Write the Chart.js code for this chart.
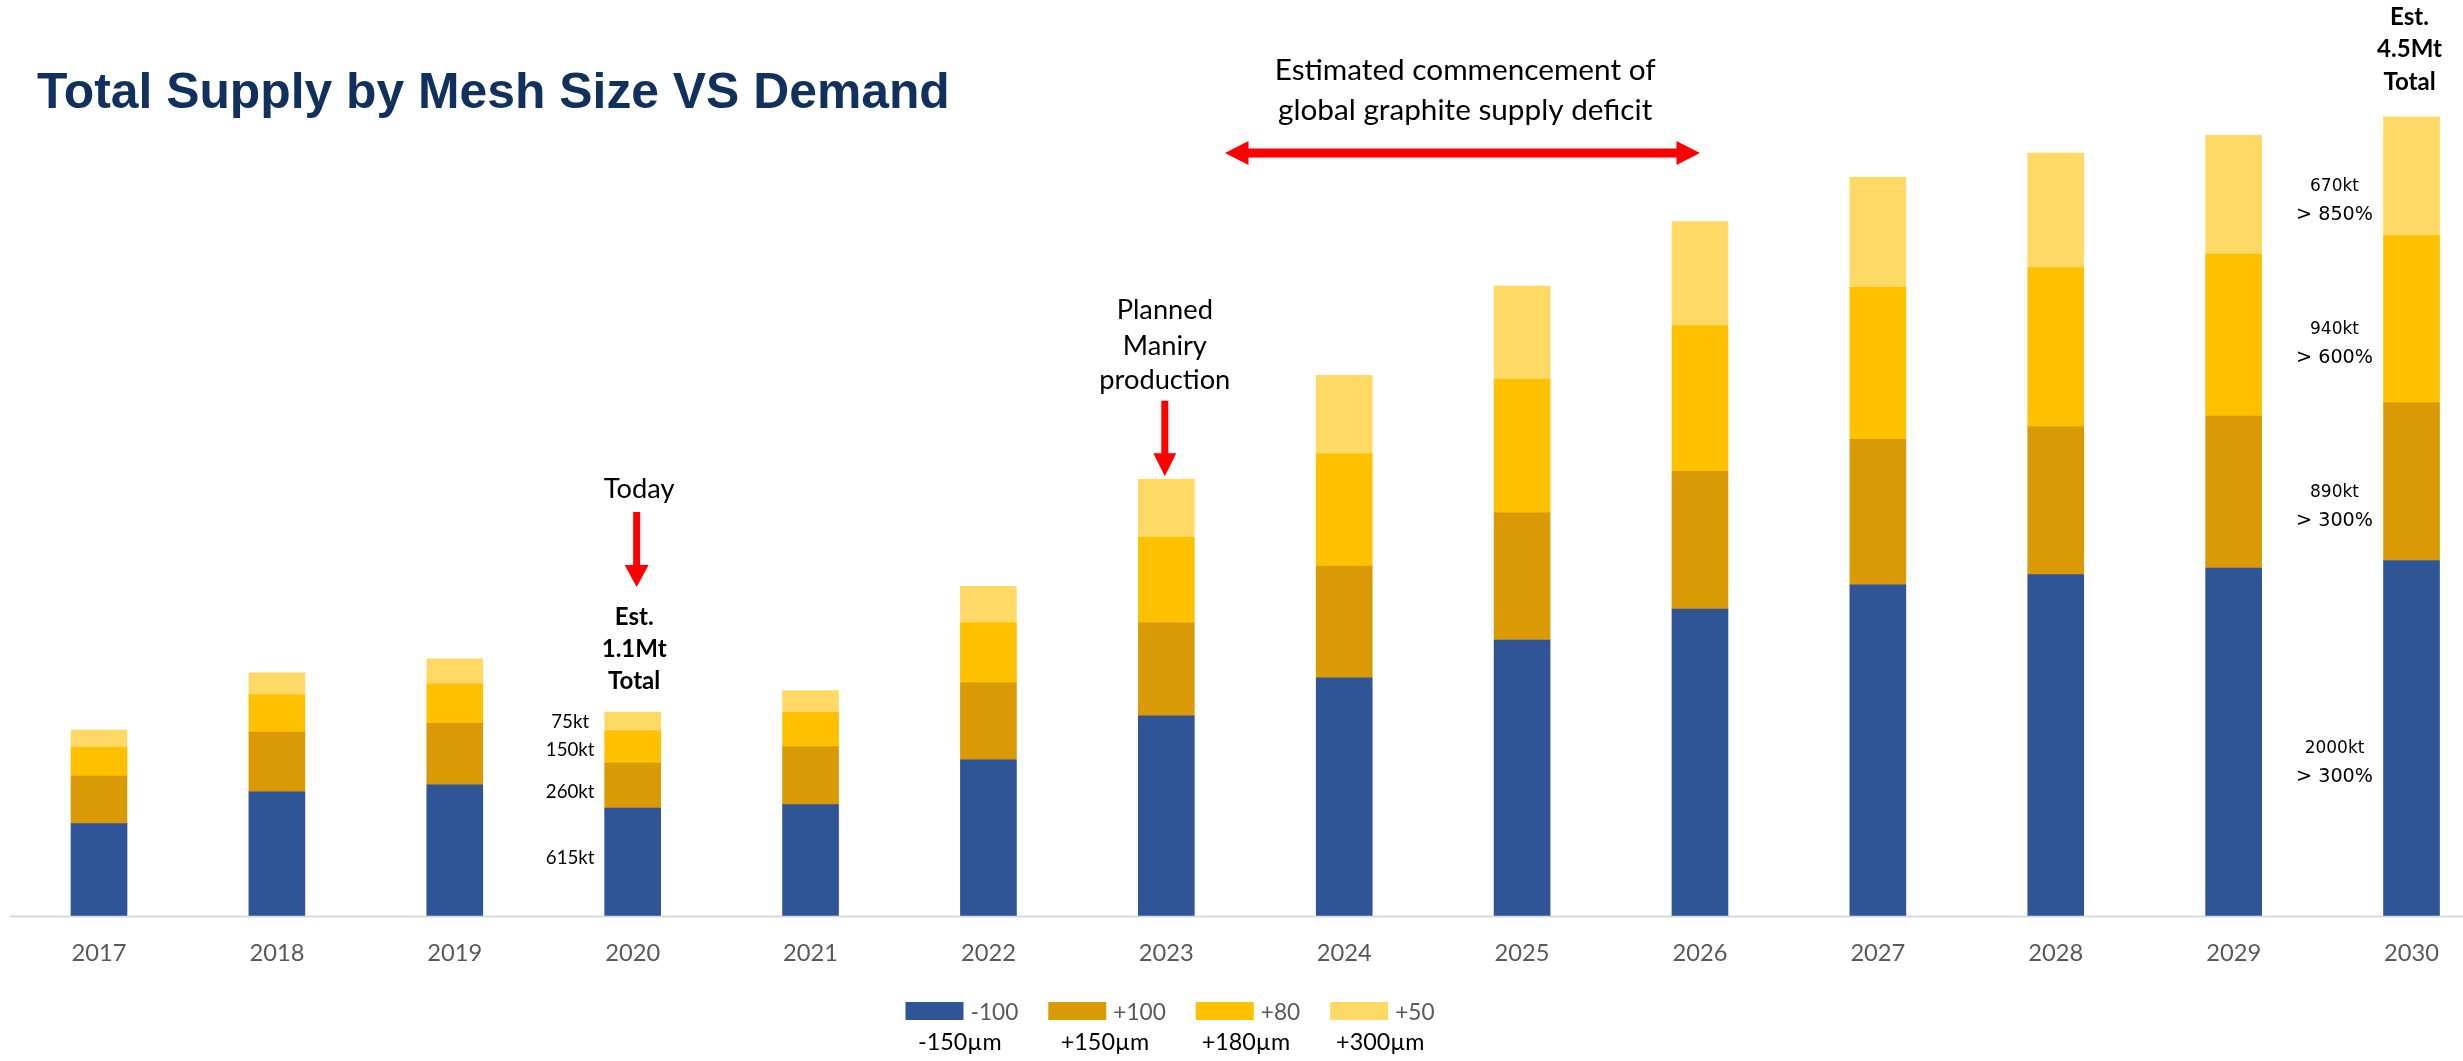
<!DOCTYPE html>
<html>
<head>
<meta charset="utf-8">
<script src="https://cdn.jsdelivr.net/npm/chart.js@4.4.1/dist/chart.umd.min.js"></script>
<style>
html,body{margin:0;padding:0;background:#ffffff;}
#wrap{position:relative;width:2463px;height:1061px;}
</style>
</head>
<body>
<div id="wrap"><canvas id="c" width="2463" height="1061"></canvas></div>
<script>
// ---------------- DATA ----------------
const years = ['2017','2018','2019','2020','2021','2022','2023','2024','2025','2026','2027','2028','2029','2030'];
const seriesLabels = ['-100','+100','+80','+50'];
const sizeLabels = ['-150µm','+150µm','+180µm','+300µm'];
// supply in kt
const minus100 = [518, 697, 736, 605, 625, 877, 1125, 1339, 1551, 1726, 1863, 1920, 1958, 2000];
const plus100  = [267, 336, 347, 254, 327, 434,  524,  629,  717,  776,  820,  835,  856,  890];
const plus80   = [163, 212, 222, 182, 193, 338,  482,  633,  752,  822,  856,  895,  913,  940];
const plus50   = [ 96, 122, 141, 105, 122, 205,  327,  442,  526,  585,  620,  645,  668,  670];
const yMax = 5000;

const chartTitle = 'Total Supply by Mesh Size VS Demand';
const todayYear = '2020';
const todayLabel = 'Today';
const todayTotalLines = ['Est.','1.1Mt','Total'];
const todaySegmentLabels = ['615kt','260kt','150kt','75kt'];
const maniryYear = '2023';
const maniryLines = ['Planned','Maniry','production'];
const finalYear = '2030';
const finalTotalLines = ['Est.','4.5Mt','Total'];
const finalSegmentLabels = ['2000kt','890kt','940kt','670kt'];
const finalGrowthLabels = ['> 300%','> 300%','> 600%','> 850%'];
const deficitLines = ['Estimated commencement of','global graphite supply deficit'];
const deficitFrom = 6.33, deficitTo = 9.0, deficitTextAt = 7.68; // category positions

// ---------------- STYLE ----------------
const colors = ['#2F5597','#DA9A06','#FFC000','#FFD966'];
const CAL = 'Lato';
const VER = "'DejaVu Sans'";
const ARI = "'Liberation Sans'";

const measureCtx = document.createElement('canvas').getContext('2d');
function fitSize(text, weight, family, width){
  measureCtx.font = weight + ' 100px ' + family;
  return 100 * width / measureCtx.measureText(text).width;
}
const tickSize = fitSize('2017', '400', CAL, 55);

function txt(ctx, s, x, y, size, weight, family, color, align){
  ctx.font = weight + ' ' + size + 'px ' + family;
  ctx.fillStyle = color;
  ctx.textAlign = align || 'center';
  ctx.textBaseline = 'alphabetic';
  ctx.fillText(s, x, y);
}
function downArrow(ctx, x, yTop, yHead, yTip, shaftW, headW){
  ctx.fillStyle = '#FF0000';
  ctx.beginPath();
  ctx.moveTo(x - shaftW/2, yTop);
  ctx.lineTo(x + shaftW/2, yTop);
  ctx.lineTo(x + shaftW/2, yHead);
  ctx.lineTo(x + headW/2, yHead);
  ctx.lineTo(x, yTip);
  ctx.lineTo(x - headW/2, yHead);
  ctx.lineTo(x - shaftW/2, yHead);
  ctx.closePath();
  ctx.fill();
}
function doubleArrow(ctx, x1, x2, y, shaftH, headL, headH){
  ctx.fillStyle = '#FF0000';
  ctx.beginPath();
  ctx.moveTo(x1, y);
  ctx.lineTo(x1 + headL, y - headH/2);
  ctx.lineTo(x1 + headL, y - shaftH/2);
  ctx.lineTo(x2 - headL, y - shaftH/2);
  ctx.lineTo(x2 - headL, y - headH/2);
  ctx.lineTo(x2, y);
  ctx.lineTo(x2 - headL, y + headH/2);
  ctx.lineTo(x2 - headL, y + shaftH/2);
  ctx.lineTo(x1 + headL, y + shaftH/2);
  ctx.lineTo(x1 + headL, y + headH/2);
  ctx.closePath();
  ctx.fill();
}

const annotations = {
  id: 'annotations',
  beforeDatasetsDraw(chart){
    const ctx = chart.ctx;
    const y0 = chart.scales.y.getPixelForValue(0);
    ctx.save();
    ctx.strokeStyle = '#D9D9D9';
    ctx.lineWidth = 2;
    ctx.beginPath();
    ctx.moveTo(10, y0 + 1);
    ctx.lineTo(chart.width, y0 + 1);
    ctx.stroke();
    ctx.restore();
  },
  afterDatasetsDraw(chart){
    const ctx = chart.ctx;
    const xs = chart.scales.x;
    const el = (k, i) => chart.getDatasetMeta(k).data[i];
    const top = i => el(3, i).y;
    const mid = (k, i) => (el(k, i).y + el(k, i).base) / 2;
    ctx.save();

    // title
    const tSize = fitSize(chartTitle, 'bold', ARI, 913);
    txt(ctx, chartTitle, 37, 108, tSize, 'bold', ARI, '#10305E', 'left');

    const annSize = fitSize('production', '400', CAL, 131);
    const boldSize = fitSize('1.1Mt', 'bold', CAL, 65);

    // Today
    const ti = years.indexOf(todayYear);
    const tx = el(0, ti).x, tt = top(ti);
    txt(ctx, todayLabel, tx + 6.5, tt - 214.5, annSize, '400', CAL, '#000');
    downArrow(ctx, tx + 4, tt - 200, tt - 147, tt - 125, 7, 24);
    [-87.5, -55.5, -23.5].forEach((dy, j) => txt(ctx, todayTotalLines[j], tx + 1.5, tt + dy, boldSize, 'bold', CAL, '#000'));
    const ktSize = fitSize('150kt', '400', CAL, 48.7);
    const ktOff = [2, 12, 9, 7];
    todaySegmentLabels.forEach((s, k) => txt(ctx, s, tx - 62.5, mid(k, ti) + ktOff[k], ktSize, '400', CAL, '#000'));

    // Maniry
    const mi = years.indexOf(maniryYear);
    const mx = el(0, mi).x, mt = top(mi);
    [-160, -124.5, -90].forEach((dy, j) => txt(ctx, maniryLines[j], mx - 1.5, mt + dy, annSize, '400', CAL, '#000'));
    downArrow(ctx, mx - 1.5, mt - 78.5, mt - 26, mt - 3, 7, 23);

    // Deficit
    const dSize = fitSize(deficitLines[0], '400', CAL, 381);
    const ca = chart.chartArea;
    const dx = xs.getPixelForValue(deficitTextAt);
    txt(ctx, deficitLines[0], dx, ca.top + 52, dSize, '400', CAL, '#000');
    txt(ctx, deficitLines[1], dx, ca.top + 92, dSize, '400', CAL, '#000');
    doubleArrow(ctx, xs.getPixelForValue(deficitFrom), xs.getPixelForValue(deficitTo), ca.top + 125, 9, 23.5, 24);

    // 2030
    const fi = years.indexOf(finalYear);
    const fx = el(0, fi).x, ft = top(fi);
    [-92, -59.5, -27].forEach((dy, j) => txt(ctx, finalTotalLines[j], fx - 2, ft + dy, boldSize, 'bold', CAL, '#000'));
    const s1 = fitSize('670kt', '400', VER, 49);
    const s2 = fitSize('> 850%', '400', VER, 77);
    finalSegmentLabels.forEach((s, k) => {
      const b = mid(k, fi) + 15;
      txt(ctx, s, fx - 77, b, s1, '400', VER, '#000');
      txt(ctx, finalGrowthLabels[k], fx - 77, b + 29, s2, '400', VER, '#000');
    });

    // legend
    const l1 = fitSize('-100', '400', CAL, 47.8);
    const l2 = fitSize('-150µm', '400', CAL, 83.6);
    const boxW = 58, boxH = 18, gapT = 7, gapI = 30;
    ctx.font = '400 ' + l1 + 'px ' + CAL;
    const widths = chart.data.datasets.map(d => boxW + gapT + ctx.measureText(d.label).width);
    const total = widths.reduce((a, b) => a + b, 0) + gapI * (widths.length - 1);
    let lx = 1170 - total / 2;
    chart.data.datasets.forEach((d, k) => {
      ctx.fillStyle = d.backgroundColor;
      ctx.fillRect(lx, 1002, boxW, boxH);
      txt(ctx, d.label, lx + boxW + gapT, 1011.5 + l1 * 0.36, l1, '400', CAL, '#595959', 'left');
      txt(ctx, sizeLabels[k], lx + widths[k] / 2 - 2, 1050, l2, '400', CAL, '#000');
      lx += widths[k] + gapI;
    });
    ctx.restore();
  }
};

const seriesData = [minus100, plus100, plus80, plus50];
new Chart(document.getElementById('c'), {
  type: 'bar',
  data: {
    labels: years,
    datasets: seriesData.map((arr, k) => ({
      label: seriesLabels[k],
      data: arr,
      backgroundColor: colors[k],
      borderWidth: 0,
      barThickness: 56,
      clip: false
    }))
  },
  options: {
    responsive: false,
    animation: false,
    devicePixelRatio: 1,
    layout: { padding: { left: 99, right: 44, top: 28, bottom: 75.5 } },
    plugins: { legend: { display: false }, tooltip: { enabled: false }, title: { display: false } },
    scales: {
      x: {
        stacked: true,
        offset: false,
        grid: { display: false, drawTicks: false },
        border: { display: false },
        ticks: { color: '#595959', font: { family: CAL, size: tickSize }, padding: 24, maxRotation: 0, autoSkip: false },
        afterFit(s){ s.height = 70; }
      },
      y: { stacked: true, display: false, min: 0, max: yMax }
    }
  },
  plugins: [annotations]
});
</script>
</body>
</html>
